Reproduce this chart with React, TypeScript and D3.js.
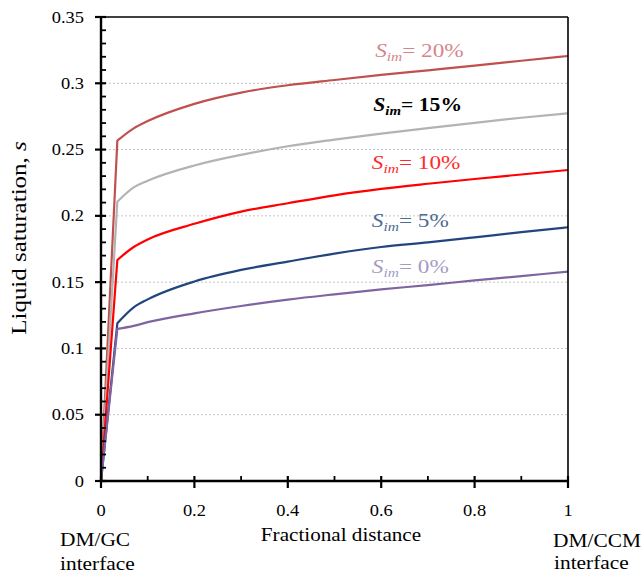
import React, { useEffect } from "react";
import * as d3 from "d3";

// fractional distance along the layer
const distance = [0, 0.035, 0.07, 0.1, 0.2, 0.3, 0.4, 0.5, 0.6, 0.7, 0.8, 0.9, 1.0];

// liquid saturation for each immobile saturation case
const sim20 = [0, 0.2567, 0.266, 0.2715, 0.2845, 0.293, 0.2985, 0.3025, 0.3063, 0.3098, 0.3133, 0.317, 0.3206];
const sim15 = [0, 0.2107, 0.2215, 0.2265, 0.238, 0.246, 0.2525, 0.2575, 0.262, 0.2662, 0.2702, 0.274, 0.2774];
const sim10 = [0, 0.1667, 0.1765, 0.1822, 0.194, 0.2032, 0.2095, 0.2155, 0.2203, 0.2242, 0.2278, 0.2312, 0.2346];
const sim5 = [0, 0.119, 0.131, 0.137, 0.1505, 0.1592, 0.1655, 0.1715, 0.1765, 0.18, 0.1838, 0.1877, 0.1914];
const sim0 = [0, 0.1147, 0.117, 0.1198, 0.1265, 0.132, 0.1368, 0.1408, 0.1445, 0.1478, 0.1513, 0.1546, 0.1579];

const seriesNames = ["20%", "15%", "10%", "5%", "0%"];
const seriesValues = [sim20, sim15, sim10, sim5, sim0];
const lineColors = ["#c0504d", "#b3b3b3", "#ff0000", "#22457e", "#8064a2"];
const labelColors = ["#d4868a", "#000000", "#ff2a2a", "#4f6a91", "#a49cc4"];
// where each label starts, in data units (distance, saturation)
const labelX = [0.587, 0.583, 0.58, 0.58, 0.58];
const labelY = [0.3196, 0.2791, 0.2351, 0.1913, 0.1566];

const yTicks = [0, 0.05, 0.1, 0.15, 0.2, 0.25, 0.3, 0.35];
const yTickLabels = ["0", "0.05", "0.1", "0.15", "0.2", "0.25", "0.3", "0.35"];
const yMinor = d3.range(1, 35).filter((i) => i % 5 !== 0).map((i) => i / 100);
const xTicks = [0, 0.2, 0.4, 0.6, 0.8, 1];
const xTickLabels = ["0", "0.2", "0.4", "0.6", "0.8", "1"];
const xMinor = [0.1, 0.3, 0.5, 0.7, 0.9];

const W = 644, H = 573;
const left = 101, right = 568, top = 17, bottom = 481;
const font = "Liberation Serif, Tinos, Times New Roman, DejaVu Serif, serif";
const SX = 1.15; // the reference text is a little wide for its height

export default function App() {
  useEffect(() => {
    document.body.style.margin = "0";
  }, []);

  const x = d3.scaleLinear().domain([0, 1]).range([left, right]);
  const y = d3.scaleLinear().domain([0, 0.35]).range([bottom, top]);

  const smooth = d3.line<number>()
    .x((_, i) => x(distance[i + 1]))
    .y((d) => y(d))
    .curve(d3.curveMonotoneX);

  // straight climb from the origin to the knee, then a smooth curve
  const path = (vals: number[]) =>
    `M${x(distance[0])},${y(vals[0])}L` + (smooth(vals.slice(1)) || "").slice(1);

  const hText = (key: string, tx: number, ty: number, size: number, label: string, anchor = "start") => (
    <text key={key} transform={`translate(${tx},${ty}) scale(${SX},1)`} textAnchor={anchor}
      fontSize={size} fontFamily={font} fill="#000">
      {label}
    </text>
  );

  return (
    <svg width={W} height={H} style={{ display: "block" }} fontFamily={font}>
      <rect width={W} height={H} fill="#fff" />

      {/* grid */}
      {yTicks.slice(1, -1).map((t) => (
        <line key={"g" + t} x1={left} x2={right} y1={y(t)} y2={y(t)}
          stroke="#c4c4c4" strokeWidth={1} strokeDasharray="2,2" />
      ))}

      {/* series */}
      {seriesValues.map((vals, i) => (
        <path key={seriesNames[i]} d={path(vals)} fill="none"
          stroke={lineColors[i]} strokeWidth={2.2} strokeLinejoin="round" />
      ))}

      {/* frame */}
      <line x1={left} x2={right} y1={top} y2={top} stroke="#000" strokeWidth={1.6} />
      <line x1={right} x2={right} y1={top} y2={bottom} stroke="#000" strokeWidth={1.6} />
      <line x1={left} x2={left} y1={top} y2={bottom + 1} stroke="#000" strokeWidth={2.4} />
      <line x1={left - 1} x2={right + 1} y1={bottom} y2={bottom} stroke="#000" strokeWidth={2.4} />

      {/* y ticks */}
      {yTicks.map((t) => (
        <line key={"yt" + t} x1={left - 6} x2={left + 5} y1={y(t)} y2={y(t)} stroke="#000" strokeWidth={2.2} />
      ))}
      {yMinor.map((t) => (
        <line key={"ym" + t} x1={left} x2={left + 5} y1={y(t)} y2={y(t)} stroke="#000" strokeWidth={1.8} />
      ))}
      {yTicks.map((t, i) => hText("yl" + t, left - 17, y(t) + 5.5, 16, yTickLabels[i], "end"))}

      {/* x ticks */}
      {xTicks.map((t) => (
        <line key={"xt" + t} x1={x(t)} x2={x(t)} y1={bottom - 5} y2={bottom + 7} stroke="#000" strokeWidth={2.2} />
      ))}
      {xMinor.map((t) => (
        <line key={"xm" + t} x1={x(t)} x2={x(t)} y1={bottom - 5} y2={bottom} stroke="#000" strokeWidth={1.8} />
      ))}
      {xTicks.map((t, i) => hText("xl" + t, x(t), 516, 16, xTickLabels[i], "middle"))}

      {/* axis titles */}
      {hText("xtitle", 341, 541, 18.4, "Fractional distance", "middle")}
      <text transform={`translate(26,238) rotate(-90) scale(1.25,1)`} textAnchor="middle"
        fontSize={20} fontFamily={font} fill="#000">
        Liquid saturation, <tspan fontStyle="italic">s</tspan>
      </text>
      {hText("dmgc", 60, 546, 18.6, "DM/GC")}
      {hText("dmgc2", 60, 570, 18.6, "interface")}
      {hText("dmccm", 553, 547, 18.6, "DM/CCM")}
      {hText("dmccm2", 554, 569, 18.6, "interface")}

      {/* series labels */}
      {seriesNames.map((n, i) => {
        const bold = n === "15%";
        return (
          <text key={"lab" + n} transform={`translate(${x(labelX[i])},${y(labelY[i])}) scale(1.19,1)`}
            fontSize={bold ? 18.2 : 19.5} fontFamily={font} fill={labelColors[i]}
            fontWeight={bold ? "bold" : "normal"}>
            <tspan fontStyle="italic">S</tspan>
            <tspan fontStyle="italic" fontSize={bold ? 12.5 : 13} dy={4}>im</tspan>
            <tspan dy={-4}>= {n}</tspan>
          </text>
        );
      })}
    </svg>
  );
}
